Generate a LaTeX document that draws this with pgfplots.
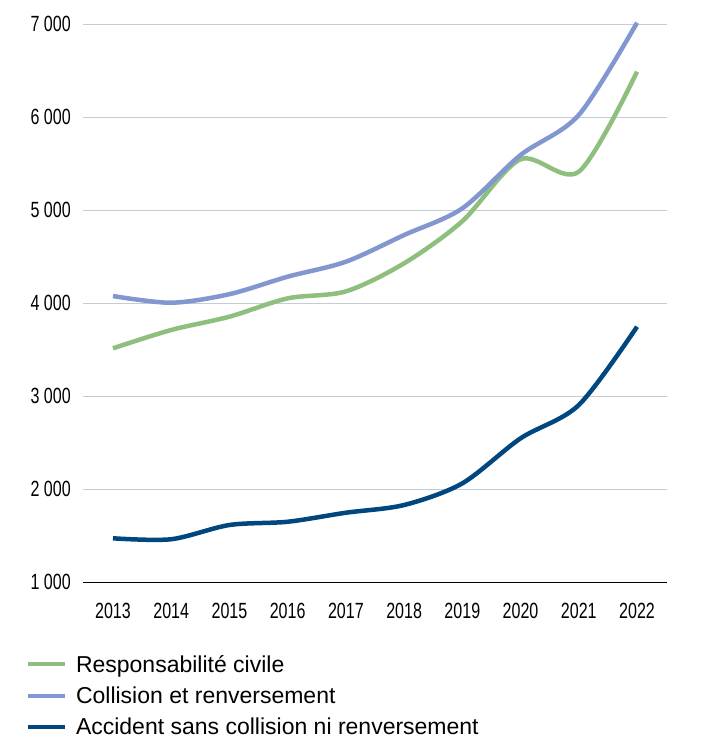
\documentclass[border=0pt]{standalone}
\usepackage{fontspec}
\setmainfont{Liberation Sans}
\newfontfamily\condfont[FakeStretch=0.73]{Liberation Sans}
\usepackage{pgfplots}
\pgfplotsset{compat=1.18}
\definecolor{cgreen}{HTML}{8FBF7F}
\definecolor{clblue}{HTML}{8296D0}
\definecolor{cdblue}{HTML}{00467F}
\definecolor{cgrid}{HTML}{C3CDD6}
\begin{document}
\begin{tikzpicture}
\useasboundingbox (0,0) rectangle (706pt,-740pt);
\begin{axis}[
  at={(83pt,-582pt)}, anchor=south west,
  width=584pt, height=558pt, scale only axis,
  xmin=2012.485, xmax=2022.515, ymin=1000, ymax=7000,
  axis lines=left,
  y axis line style={draw=none},
  x axis line style={black, line width=1pt, -},
  major tick length=0pt,
  ymajorgrids, grid style={cgrid, line width=1pt},
  xtick={2013,2014,2015,2016,2017,2018,2019,2020,2021,2022},
  xticklabels={2013,2014,2015,2016,2017,2018,2019,2020,2021,2022},
  ytick={1000,2000,3000,4000,5000,6000,7000},
  yticklabels={1 000,2 000,3 000,4 000,5 000,6 000,7 000},
  tick label style={font=\condfont\fontsize{22}{26}\selectfont, inner sep=0pt, text=black},
  yticklabel style={anchor=east, xshift=-12pt},
  xticklabel style={anchor=north, yshift=-21pt},
  legend style={draw=none, fill=none, at={(-0.0976,-0.131)}, anchor=north west,
    font=\fontsize{23}{27}\selectfont, row sep=13pt, column sep=9pt,
    inner sep=0pt, outer sep=0pt, nodes={inner sep=0pt}},
  legend cell align=left,
  legend image code/.code={\draw[#1, line width=4pt] (0pt,0pt) -- (37pt,0pt);},
  clip=false,
]
\addplot[cgreen, line width=4.5pt, smooth, tension=0.5] coordinates {
 (2013,3513) (2014,3710) (2015,3853) (2016,4050) (2017,4125)
 (2018,4427) (2019,4880) (2020,5545) (2021,5412) (2022,6487)};
\addlegendentry{Responsabilité civile}
\addplot[clblue, line width=4.5pt, smooth, tension=0.5] coordinates {
 (2013,4075) (2014,4003) (2015,4095) (2016,4283) (2017,4444)
 (2018,4731) (2019,5018) (2020,5591) (2021,6022) (2022,7014)};
\addlegendentry{Collision et renversement}
\addplot[cdblue, line width=4.5pt, smooth, tension=0.5] coordinates {
 (2013,1470) (2014,1460) (2015,1613) (2016,1648) (2017,1745)
 (2018,1828) (2019,2061) (2020,2545) (2021,2903) (2022,3745)};
\addlegendentry{Accident sans collision ni renversement}
\end{axis}
\end{tikzpicture}
\end{document}
